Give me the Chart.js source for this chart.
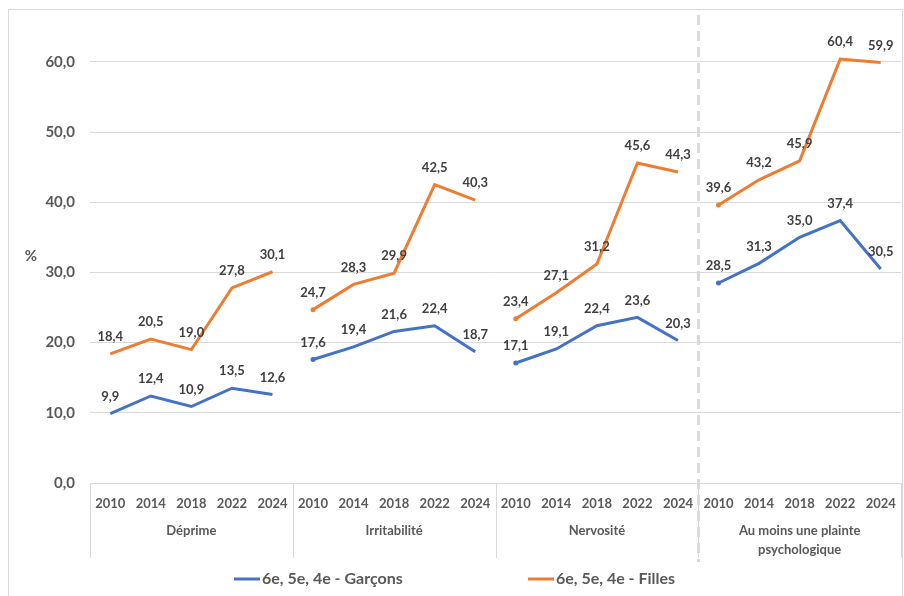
<!DOCTYPE html>
<html>
<head>
<meta charset="utf-8">
<script src="https://cdn.jsdelivr.net/npm/chart.js@4"></script>
<style>
  html, body { margin: 0; padding: 0; background: #fff; }
  #wrap { width: 904px; height: 596px; position: relative; }
</style>
</head>
<body>
<div id="wrap"><canvas id="graphique"></canvas></div>
<script>
// Données
const groupes = ['Déprime', 'Irritabilité', 'Nervosité', ['Au moins une plainte', 'psychologique']];
const annees = ['2010', '2014', '2018', '2022', '2024'];
const garcons = [9.9, 12.4, 10.9, 13.5, 12.6,  17.6, 19.4, 21.6, 22.4, 18.7,  17.1, 19.1, 22.4, 23.6, 20.3,  28.5, 31.3, 35.0, 37.4, 30.5];
const filles  = [18.4, 20.5, 19.0, 27.8, 30.1,  24.7, 28.3, 29.9, 42.5, 40.3,  23.4, 27.1, 31.2, 45.6, 44.3,  39.6, 43.2, 45.9, 60.4, 59.9];
const graduations = [0, 10, 20, 30, 40, 50, 60];
const nomsSeries = ['6e, 5e, 4e - Garçons', '6e, 5e, 4e - Filles'];
const couleurs = ['#4472C4', '#ED7D31'];

const etiquettes = [];
groupes.forEach(() => annees.forEach(a => etiquettes.push(a)));
const nbAnnees = annees.length;
const groupeDe = i => Math.floor(i / nbAnnees);
const gris = '#595959';
const police = 'Lato, "Liberation Sans", sans-serif';
const fmt = v => v.toFixed(1).replace('.', ',');

function serie(label, data, couleur) {
    return {
        label: label,
        data: data,
        borderColor: couleur,
        backgroundColor: couleur,
        borderWidth: 3,
        tension: 0,
        pointRadius: data.map((v, i) => (i % nbAnnees === 0 && i > 0) ? 2.5 : 0),
        pointBorderWidth: 0,
        pointHoverRadius: 0,
        segment: {
            borderColor: ctx => groupeDe(ctx.p0DataIndex) !== groupeDe(ctx.p1DataIndex) ? 'transparent' : couleur
        }
    };
}

// Étiquettes de données, axe à deux niveaux, légende, cadre
const decor = {
    id: 'decor',
    beforeDraw(chart) {
        const c = chart.ctx;
        c.save();
        c.strokeStyle = '#d9d9d9';
        c.lineWidth = 1;
        c.strokeRect(8.5, 9.5, 894, 590);
        c.restore();
    },
    afterDatasetsDraw(chart) {
        const c = chart.ctx;
        const area = chart.chartArea;
        c.save();
        // libellés des points
        c.font = 'bold 13px ' + police;
        c.fillStyle = '#404040';
        c.textAlign = 'center';
        c.textBaseline = 'middle';
        chart.data.datasets.forEach((ds, d) => {
            chart.getDatasetMeta(d).data.forEach((pt, i) => {
                c.fillText(fmt(ds.data[i]), pt.x, pt.y - 17);
            });
        });
        // séparateurs de l'axe des catégories
        const largeur = (area.right - area.left) / etiquettes.length;
        c.strokeStyle = '#d9d9d9';
        c.lineWidth = 1;
        for (let g = 0; g <= groupes.length; g++) {
            const xs = Math.round(area.left + g * nbAnnees * largeur) + 0.5;
            c.beginPath();
            c.moveTo(xs, area.bottom);
            c.lineTo(xs, area.bottom + 75);
            c.stroke();
        }
        // noms des groupes
        c.fillStyle = gris;
        c.font = 'bold 13px ' + police;
        groupes.forEach((nom, g) => {
            const xc = area.left + (g * nbAnnees + nbAnnees / 2) * largeur;
            const lignes = Array.isArray(nom) ? nom : [nom];
            lignes.forEach((l, k) => c.fillText(l, xc, area.bottom + 48 + k * 19));
        });
        // ligne pointillée
        const xd = Math.round(area.left + 3 * nbAnnees * largeur) + 0.5;
        c.strokeStyle = '#d9d9d9';
        c.lineWidth = 3;
        c.setLineDash([10, 6]);
        c.beginPath();
        c.moveTo(xd, 15);
        c.lineTo(xd, 562);
        c.stroke();
        c.setLineDash([]);
        // titre de l'axe Y
        c.font = 'bold 15px ' + police;
        c.fillText('%', 31, 256);
        // légende
        c.font = 'bold 16px ' + police;
        c.textAlign = 'left';
        const posLegende = [234, 528];
        nomsSeries.forEach((nom, s) => {
            c.strokeStyle = couleurs[s];
            c.lineWidth = 3;
            c.beginPath();
            c.moveTo(posLegende[s], 579);
            c.lineTo(posLegende[s] + 26, 579);
            c.stroke();
            c.fillStyle = gris;
            c.fillText(nom, posLegende[s] + 28, 579);
        });
        c.restore();
    }
};

new Chart(document.getElementById('graphique'), {
    type: 'line',
    data: {
        labels: etiquettes,
        datasets: [serie(nomsSeries[0], garcons, couleurs[0]), serie(nomsSeries[1], filles, couleurs[1])]
    },
    options: {
        responsive: true,
        maintainAspectRatio: false,
        animation: false,
        layout: { padding: { top: 2, right: 3, left: 0, bottom: 0 } },
        plugins: {
            legend: { display: false },
            tooltip: { enabled: false }
        },
        scales: {
            x: {
                type: 'category',
                offset: true,
                grid: { display: false },
                border: { display: false },
                ticks: {
                    autoSkip: false,
                    maxRotation: 0,
                    padding: 5,
                    color: gris,
                    font: { family: police, size: 13, weight: 'bold' }
                },
                afterFit: scale => { scale.height = 113; }
            },
            y: {
                min: 0,
                max: 65.4,
                afterBuildTicks: scale => {
                    scale.ticks = graduations.map(v => ({ value: v }));
                },
                grid: { color: '#d9d9d9', lineWidth: 1, drawTicks: false },
                border: { display: false },
                ticks: {
                    padding: 15,
                    color: gris,
                    font: { family: police, size: 15, weight: 'bold' },
                    callback: v => fmt(v)
                },
                afterFit: scale => { scale.width = 90; }
            }
        }
    },
    plugins: [decor]
});
</script>
</body>
</html>
